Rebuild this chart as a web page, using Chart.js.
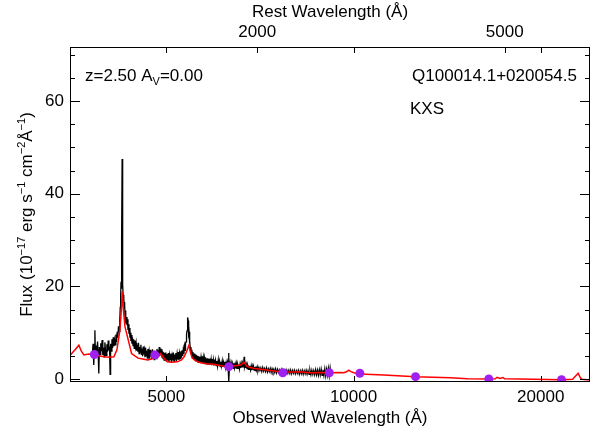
<!DOCTYPE html>
<html>
<head>
<meta charset="utf-8">
<script src="https://cdn.jsdelivr.net/npm/chart.js@4.4.1/dist/chart.umd.min.js"></script>
<style>
  html, body { margin: 0; padding: 0; background: #fff; }
  #c { display: block; }
</style>
</head>
<body>
<canvas id="c" width="598" height="436"></canvas>
<script>
const redshift = 2.5;
const xMin = 3500, xMax = 24000;
const yMin = -0.65, yMax = 71.7;

const xTickVals = [5000, 10000, 20000];
const topTickVals = [2000, 5000];           // rest frame
const yTickVals = [0, 20, 40, 60];
const yMinorVals = [5, 10, 15, 25, 30, 35, 45, 50, 55, 65, 70];

const objectName = 'Q100014.1+020054.5';
const surveyName = 'KXS';

// observed spectrum [wavelength, flux]
const spectrum = [
  [3800,5.0],[3812,7.6],[3822,3.0],[3830,6.5],[3838,10.5],[3846,4.6],[3856,7.2],[3866,5.8],[3876,8.1],
  [3886,4.9],[3894,1.2],[3902,6.9],[3912,5.3],[3922,7.7],[3932,6.0],[3942,8.4],[3952,5.2],[3962,6.8],
  [3972,4.8],[3982,7.9],[3992,6.3],[4002,5.1],[4012,7.5],[4022,5.9],[4032,8.3],[4042,6.2],[4052,7.0],
  [4060,1.0],[4068,7.6],[4078,6.0],[4088,8.6],[4098,6.7],[4108,9.0],[4118,7.1],[4128,8.4],[4138,7.4],
  [4148,9.6],[4158,8.0],[4168,10.2],[4178,8.9],[4188,11.4],[4198,10.3],[4208,12.6],[4216,15.5],
  [4222,18.0],[4228,21.0],[4234,19.5],[4240,30.0],[4245,47.5],[4249,40.0],[4253,22.0],[4258,20.5],
  [4264,17.0],[4270,18.2],[4277,15.4],[4284,16.6],[4291,13.2],[4298,14.8],[4306,12.0],[4314,13.4],
  [4322,11.6],[4330,12.9],[4338,10.6],[4346,11.8],[4354,9.8],[4362,11.0],[4370,8.9],[4378,10.0],
  [4386,8.2],[4394,9.5],[4402,7.6],[4410,9.0],[4420,7.2],[4430,8.6],[4440,6.6],[4450,8.3],[4460,6.9],
  [4470,7.8],[4480,6.1],[4490,7.4],[4500,5.9],[4510,7.8],[4520,5.5],[4530,6.9],[4540,5.8],[4550,7.4],
  [4560,5.2],[4570,6.6],[4580,4.9],[4590,7.0],[4600,5.3],[4610,6.2],[4620,4.7],[4630,6.8],[4640,5.0],
  [4650,6.1],[4660,4.5],[4670,6.5],[4680,5.1],[4690,6.0],[4700,4.4],[4710,6.3],[4720,4.8],[4730,5.9],
  [4740,4.3],[4750,6.4],[4760,4.9],[4770,5.7],[4780,4.2],[4790,6.1],[4800,4.6],[4810,5.8],[4820,4.4],
  [4830,6.5],[4840,5.0],[4850,6.2],[4860,4.8],[4870,6.9],[4880,5.3],[4890,6.6],[4900,5.1],[4910,6.4],
  [4920,4.6],[4930,6.0],[4940,4.4],[4950,5.8],[4960,4.1],[4970,5.6],[4980,4.0],[4990,5.7],[5000,3.9],
  [5012,5.4],[5024,4.1],[5036,5.6],[5048,3.7],[5060,5.2],[5072,4.2],[5084,5.5],[5096,3.6],[5108,5.0],
  [5120,4.0],[5132,5.7],[5144,3.8],[5156,5.3],[5168,4.3],[5180,5.6],[5192,3.9],[5204,5.4],[5216,4.2],
  [5228,5.8],[5240,4.1],[5252,5.5],[5264,4.4],[5276,6.0],[5288,4.6],[5300,6.2],[5312,5.0],[5324,6.4],
  [5336,5.4],[5348,7.0],[5358,6.2],[5368,7.8],[5378,8.0],[5388,9.6],[5398,10.4],[5406,11.6],
  [5414,13.3],[5422,12.6],[5430,9.8],[5438,10.2],[5446,7.6],[5456,8.2],[5466,6.2],[5476,6.9],
  [5486,5.4],[5496,6.3],[5506,4.6],[5518,5.8],[5530,4.3],[5542,5.5],[5554,4.0],[5566,5.3],[5578,3.8],
  [5590,5.1],[5602,3.9],[5614,5.0],[5626,3.6],[5638,4.9],[5650,3.7],[5662,4.8],[5674,3.5],[5686,4.7],
  [5698,3.6],[5710,4.9],[5722,3.4],[5734,4.6],[5746,3.5],[5758,4.5],[5770,3.3],[5782,4.7],[5794,3.4],
  [5806,4.4],[5818,3.2],[5830,4.5],[5842,3.3],[5854,4.3],[5866,3.1],[5878,4.4],[5890,3.2],[5902,4.2],
  [5914,3.0],[5926,4.3],[5938,3.1],[5950,4.1],[5962,2.9],[5974,4.2],[5986,3.0],[6000,4.0],[6015,2.9],
  [6030,3.9],[6045,2.8],[6060,4.1],[6075,2.8],[6090,3.8],[6105,2.7],[6120,3.7],[6135,2.8],[6150,3.9],
  [6165,2.6],[6180,3.6],[6195,2.7],[6210,3.7],[6225,2.5],[6240,3.5],[6255,2.6],[6270,3.6],[6285,2.6],
  [6295,5.6],[6305,-0.6],[6315,2.5],[6330,3.5],[6345,2.4],[6360,3.4],[6375,2.5],[6390,3.3],[6405,2.3],
  [6420,3.4],[6435,2.4],[6450,3.2],[6465,2.3],[6480,3.3],[6495,2.2],[6510,3.2],[6525,2.3],[6540,3.1],
  [6555,2.2],[6570,3.2],[6585,2.4],[6600,3.3],[6615,2.5],[6630,3.4],[6645,2.6],[6660,3.6],[6670,4.8],
  [6680,2.7],[6695,3.3],[6710,2.4],[6725,3.1],[6740,2.2],[6755,3.0],[6770,2.1],[6785,2.9],[6800,2.1],
  [6815,2.8],[6830,2.0],[6845,2.8],[6860,1.9],[6875,2.7],[6890,2.0],[6905,2.7],[6920,1.9],[6935,2.6],
  [6950,1.8],[6965,2.7],[6980,1.9],[7000,2.6],[7020,1.7],[7045,2.5],[7070,1.8],[7095,2.4],[7120,1.6],
  [7145,2.5],[7170,1.7],[7195,2.3],[7220,1.6],[7245,2.4],[7270,1.5],[7295,2.2],[7320,1.6],[7345,2.3],
  [7370,1.4],[7395,2.2],[7420,1.5],[7445,2.1],[7470,1.4],[7495,2.2],[7520,1.3],[7550,2.1],[7580,1.4],
  [7610,2.0],[7640,1.3],[7670,2.1],[7700,1.2],[7730,1.9],[7760,1.3],[7790,2.0],[7820,1.2],[7850,1.9],
  [7880,1.2],[7910,2.0],[7940,1.1],[7970,1.9],[8000,1.2],[8030,1.9],[8060,1.1],[8090,1.8],[8120,1.2],
  [8150,1.9],[8180,1.0],[8210,1.8],[8240,1.1],[8270,1.9],[8300,1.0],[8330,1.8],[8360,1.1],[8390,1.9],
  [8420,1.0],[8450,1.8],[8480,1.0],[8510,1.9],[8540,0.9],[8570,1.9],[8600,1.0],[8630,1.8],[8660,0.9],
  [8690,2.0],[8720,0.9],[8750,1.9],[8780,0.8],[8810,2.0],[8840,0.9],[8870,2.1],[8900,0.8],[8930,2.0],
  [8960,0.8],[8990,2.2],[9020,0.7],[9050,2.1],[9080,0.8],[9110,2.3],[9140,0.7],[9170,2.4],[9200,0.9],
  [9220,1.4]
];

// model (red) [wavelength, flux]
const model = [
  [3490,5.0],[3506,5.2],[3560,6.2],[3617,7.3],[3650,6.0],[3685,5.2],[3750,5.4],[3822,5.3],[3900,5.0],
  [3967,4.8],[4050,4.7],[4118,4.8],[4164,6.3],[4211,10.6],[4235,15.5],[4247,18.9],[4265,15.0],
  [4290,11.3],[4343,8.4],[4396,5.5],[4503,4.5],[4580,4.3],[4666,4.1],[4730,4.3],[4792,4.5],[4850,4.8],
  [4897,5.5],[4950,4.6],[5020,3.7],[5100,3.6],[5209,3.7],[5290,4.1],[5340,4.8],[5400,6.2],[5437,7.3],
  [5470,5.6],[5505,4.5],[5580,3.9],[5675,3.5],[5800,3.3],[5963,3.2],[6100,2.9],[6266,2.66],[6420,2.8],
  [6583,3.0],[6664,3.6],[6750,2.66],[6900,2.3],[7087,2.1],[7400,1.8],[7697,1.5],[8000,1.5],[8220,1.58],
  [8475,1.36],[8800,1.4],[9140,1.36],[9450,1.4],[9647,1.36],[9760,1.6],[9827,1.9],[9900,1.6],
  [10011,1.36],[10236,1.08],[11188,0.86],[12580,0.5],[14320,0.28],[15240,0.06],[16500,0.0],
  [16900,0.05],[17014,0.37],[17200,0.1],[17400,0.3],[17500,0.05],[18500,-0.02],[19490,-0.06],
  [21600,-0.15],[22500,-0.05],[22970,1.23],[23150,0.3],[23290,-0.06],[24040,-0.2]
];

// photometry points
const photWave = [3830, 4792, 6302, 7695, 9140, 10236, 12580, 16500, 21600];
const photFlux = [5.3, 5.2, 2.66, 1.36, 1.36, 1.23, 0.5, 0.0, -0.15];

const FONT = '"Liberation Sans", Arial, Helvetica, sans-serif';
Chart.defaults.color = '#000';
Chart.defaults.font.family = FONT;
Chart.defaults.font.size = 17;

const toXY = arr => arr.map(p => ({ x: p[0], y: p[1] }));

function richWidth(ctx, parts, size) {
  let w = 0;
  parts.forEach(p => {
    ctx.font = (p[1] ? Math.round(size * 0.62) : size) + 'px ' + FONT;
    w += ctx.measureText(p[0]).width;
  });
  return w;
}
// parts: [text, 0 normal | 1 super | -1 sub]
function fillRich(ctx, x, y, parts, size) {
  let cx = x;
  parts.forEach(p => {
    ctx.font = (p[1] ? Math.round(size * 0.62) : size) + 'px ' + FONT;
    const dy = p[1] === 1 ? -size * 0.42 : (p[1] === -1 ? size * 0.25 : 0);
    ctx.fillText(p[0], cx, y + dy);
    cx += ctx.measureText(p[0]).width;
  });
}

const frame = {
  id: 'frame',
  afterDraw(chart) {
    const { ctx, chartArea: a, scales } = chart;
    const x = scales.x, x2 = scales.x2, y = scales.y;
    ctx.save();
    ctx.strokeStyle = '#000';
    ctx.lineWidth = 1;
    ctx.strokeRect(a.left + 0.5, a.top + 0.5, a.right - a.left - 1, a.bottom - a.top - 1);
    ctx.beginPath();
    xTickVals.forEach(v => {
      const px = Math.round(x.getPixelForValue(v)) + 0.5;
      ctx.moveTo(px, a.bottom); ctx.lineTo(px, a.bottom - 6);
      ctx.moveTo(px, a.top); ctx.lineTo(px, a.top + 6);
    });
    topTickVals.forEach(v => {
      const px = Math.round(x2.getPixelForValue(v)) + 0.5;
      ctx.moveTo(px, a.top); ctx.lineTo(px, a.top + 6);
    });
    yTickVals.forEach(v => {
      const py = Math.round(y.getPixelForValue(v)) + 0.5;
      ctx.moveTo(a.left, py); ctx.lineTo(a.left + 10, py);
      ctx.moveTo(a.right, py); ctx.lineTo(a.right - 10, py);
    });
    yMinorVals.forEach(v => {
      const py = Math.round(y.getPixelForValue(v)) + 0.5;
      ctx.moveTo(a.left, py); ctx.lineTo(a.left + 5, py);
      ctx.moveTo(a.right, py); ctx.lineTo(a.right - 5, py);
    });
    ctx.stroke();

    // annotations
    ctx.fillStyle = '#000';
    ctx.textBaseline = 'alphabetic';
    ctx.textAlign = 'left';
    fillRich(ctx, a.left + 15, a.top + 34,
      [['z=' + redshift.toFixed(2) + ' A', 0], ['V', -1], ['=0.00', 0]], 17);
    ctx.font = '17px ' + FONT;
    ctx.textAlign = 'right';
    ctx.fillText(objectName, a.right - 13, a.top + 34);
    ctx.textAlign = 'left';
    ctx.fillText(surveyName, a.right - 180, a.top + 67);

    // y title with superscripts
    const parts = [['Flux (10', 0], ['\u221217', 1], [' erg s', 0], ['\u22121', 1], [' cm', 0],
                   ['\u22122', 1], ['\u00c5', 0], ['\u22121', 1], [')', 0]];
    const w = richWidth(ctx, parts, 17);
    ctx.translate(32, (a.top + a.bottom) / 2);
    ctx.rotate(-Math.PI / 2);
    ctx.textAlign = 'left';
    fillRich(ctx, -w / 2, 0, parts, 17);
    ctx.restore();
  }
};

new Chart(document.getElementById('c'), {
  type: 'scatter',
  data: {
    datasets: [
      { data: photWave.map((w, i) => ({ x: w, y: photFlux[i] })), backgroundColor: '#a020f0',
        borderColor: '#a020f0', pointRadius: 4.5, pointBorderWidth: 0, showLine: false, order: 0 },
      { data: toXY(model), borderColor: '#ff0000', borderWidth: 1.5, pointRadius: 0,
        showLine: true, tension: 0, order: 1 },
      { data: toXY(spectrum), borderColor: '#000', borderWidth: 1.3, pointRadius: 0,
        showLine: true, tension: 0, order: 2 }
    ]
  },
  options: {
    responsive: false,
    animation: false,
    devicePixelRatio: 1,
    layout: { padding: 0 },
    plugins: { legend: { display: false }, tooltip: { enabled: false } },
    scales: {
      x: {
        type: 'logarithmic', position: 'bottom', min: xMin, max: xMax,
        grid: { display: false, drawTicks: false }, border: { display: false },
        afterBuildTicks: s => { s.ticks = xTickVals.map(v => ({ value: v })); },
        afterFit: s => { s.height = 54; },
        ticks: { autoSkip: false, maxRotation: 0, padding: 5, callback: v => String(v) },
        title: { display: true, text: 'Observed Wavelength (\u00c5)', padding: { top: 0, bottom: 7 } }
      },
      x2: {
        type: 'logarithmic', position: 'top',
        min: xMin / (1 + redshift), max: xMax / (1 + redshift),
        grid: { display: false, drawTicks: false }, border: { display: false },
        afterBuildTicks: s => { s.ticks = topTickVals.map(v => ({ value: v })); },
        afterFit: s => { s.height = 47; },
        ticks: { autoSkip: false, maxRotation: 0, padding: 4, callback: v => String(v) },
        title: { display: true, text: 'Rest Wavelength (\u00c5)', padding: { top: 2, bottom: 0 } }
      },
      y: {
        type: 'linear', position: 'left', min: yMin, max: yMax,
        grid: { display: false, drawTicks: false }, border: { display: false },
        afterBuildTicks: s => { s.ticks = yTickVals.map(v => ({ value: v })); },
        afterFit: s => { s.width = 70; },
        ticks: { padding: 6, callback: v => String(v) }
      },
      y2: {
        type: 'linear', position: 'right', min: yMin, max: yMax,
        grid: { display: false, drawTicks: false }, border: { display: false },
        afterFit: s => { s.width = 8; },
        ticks: { display: false }
      }
    }
  },
  plugins: [frame]
});
</script>
</body>
</html>
